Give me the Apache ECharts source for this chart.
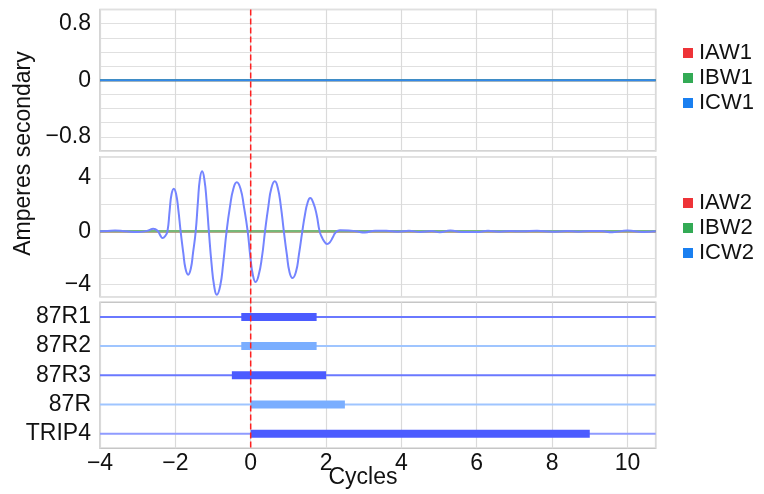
<!DOCTYPE html>
<html>
<head>
<meta charset="utf-8">
<script src="https://cdn.jsdelivr.net/npm/echarts@6/dist/echarts.min.js"></script>
<style>
  html, body { margin: 0; padding: 0; background: #fff; }
  #chart { width: 764px; height: 494px; }
</style>
</head>
<body>
<div id="chart"></div>
<script>
// x range of every panel (cycles)
const xMin = -4
const xMax = 10.75
const xTickLabels = [-4, -2, 0, 2, 4, 6, 8, 10]

// top panel: W1 currents, all flat at 0
const flatCycles = [-4, 10.75]
const iaw1 = [0, 0]
const ibw1 = [0, 0]
const icw1 = [0, 0]
const topTickLabels = [-0.8, 0, 0.8]

// middle panel: W2 currents
const iaw2 = [0, 0]
const ibw2 = [0, 0]
const icw2Cycles = [
  -4.0, -3.8, -3.6, -3.4, -3.2, -3.0, -2.85, -2.7, -2.59, -2.47, -2.4, -2.34, -2.27,
  -2.21, -2.15, -2.1, -2.04, -1.98, -1.92,
  -1.86, -1.79, -1.73, -1.66, -1.59, -1.53,
  -1.46, -1.4, -1.35, -1.29, -1.23, -1.17,
  -1.11, -1.04, -0.97, -0.9, -0.81, -0.73,
  -0.64, -0.55, -0.46, -0.37, -0.27, -0.18,
  -0.08, -0.01, 0.06, 0.13, 0.21, 0.3,
  0.38, 0.47, 0.55, 0.64, 0.72, 0.8,
  0.88, 0.96, 1.03, 1.11, 1.2, 1.28,
  1.37, 1.44, 1.51, 1.58, 1.66, 1.75,
  1.83, 1.9, 1.97, 2.03, 2.1, 2.18,
  2.25, 2.37, 2.6, 2.8, 3.03, 3.3, 3.6, 3.9, 4.2, 4.5, 4.8, 5.02, 5.3, 5.6,
  5.99, 6.3, 6.6, 6.9, 7.2, 7.6, 8.0, 8.4, 8.7, 9.0, 9.3, 9.6, 10.0, 10.4, 10.75
]
const icw2Amps = [
  0, 0.03, 0.06, 0.03, -0.03, -0.05, -0.02, 0.08, 0.2, 0.05, -0.3, -0.5, -0.35,
  0, 1.6, 2.8, 3.2, 2.8, 1.6,
  0, -1.6, -2.8, -3.25, -2.8, -1.6,
  0, 2.25, 3.9, 4.5, 3.9, 2.25,
  0, -2.4, -4.1, -4.75, -4.1, -2.4,
  0, 1.85, 3.2, 3.68, 3.2, 1.85,
  0, -1.9, -3.3, -3.8, -3.3, -1.9,
  0, 1.9, 3.25, 3.75, 3.25, 1.9,
  0, -1.75, -3.05, -3.5, -3.05, -1.75,
  0, 1.25, 2.15, 2.5, 2.15, 1.25,
  0, -0.5, -0.82, -0.95, -0.82, -0.45,
  -0.1, 0.08, 0.07, 0, -0.08, 0.05, 0.04, -0.03, 0.04, -0.04, 0.02, -0.06, 0.06, -0.05,
  -0.05, 0.04, -0.02, 0.03, 0, 0.04, -0.03, 0.02, -0.02, 0.03, 0.02, -0.06, 0.06, -0.05, 0
]
const midTickLabels = [-4, 0, 4]

// bottom panel: digital elements
const relayNames = ['87R1', '87R2', '87R3', '87R', 'TRIP4']
const relayStart = [-0.25, -0.25, -0.5, 0, 0]
const relayEnd = [1.75, 1.75, 2.0, 2.5, 9.0]

const FONT = 'Liberation Sans, Arial, sans-serif'
const FS = 23
const minus = v => (v < 0 ? '\u2212' : '') + Math.abs(v)
const onList = (list, v) => list.some(t => Math.abs(t - v) < 1e-6)

const legendColors = { A: '#ee3338', B: '#33aa55', C: '#1a7ff0' }
const relayThin = ['#6a78ff', '#9fc5ff', '#6a78ff', '#9fc5ff', '#8f9bff']
const relayBar = ['#4b5bff', '#7aaeff', '#4b5bff', '#7aaeff', '#4b5bff']

const chart = echarts.init(document.getElementById('chart'), null, { renderer: 'canvas' })

const gridStyle = { left: 100, right: 108.3, show: true, borderColor: '#c6c6c6', borderWidth: 1.5, containLabel: false }

const xAxisBase = (idx, showLabel) => ({
  type: 'value',
  gridIndex: idx,
  min: xMin,
  max: xMax,
  interval: 2,
  axisLine: { show: false },
  axisTick: { show: false },
  splitLine: { show: true, lineStyle: { color: '#dadada', width: 1.2 } },
  axisLabel: {
    show: showLabel,
    fontFamily: FONT,
    fontSize: FS,
    color: '#111',
    margin: 4,
    formatter: v => onList(xTickLabels, v) ? minus(v) : ''
  }
})

const pairs = (xs, ys) => xs.map((x, i) => [x, ys[i]])

const series = []
const flatLine = (name, data, color, idx, width) => ({
  name, type: 'line', xAxisIndex: idx, yAxisIndex: idx,
  data: pairs(flatCycles, data), showSymbol: false,
  lineStyle: { color, width }, itemStyle: { color }, animation: false
})
series.push(flatLine('IAW1', iaw1, legendColors.A, 0, 2))
series.push(flatLine('IBW1', ibw1, legendColors.B, 0, 2))
series.push(flatLine('ICW1', icw1, '#3389ea', 0, 2))
series.push(flatLine('IAW2', iaw2, legendColors.A, 1, 2.5))
series.push(flatLine('IBW2', ibw2, '#78b878', 1, 2.5))
series.push({
  name: 'ICW2', type: 'line', xAxisIndex: 1, yAxisIndex: 1,
  data: pairs(icw2Cycles, icw2Amps), showSymbol: false, smooth: 0.5,
  lineStyle: { color: '#7484ff', width: 2 }, itemStyle: { color: legendColors.C },
  animation: false
})

relayNames.forEach((name, i) => {
  series.push({
    type: 'line', xAxisIndex: 2, yAxisIndex: 2, showSymbol: false, silent: true,
    data: [[xMin, name], [xMax, name]],
    lineStyle: { color: relayThin[i], width: 2 }, animation: false
  })
  series.push({
    type: 'line', xAxisIndex: 2, yAxisIndex: 2, showSymbol: false, silent: true,
    data: [[relayStart[i], name], [relayEnd[i], name]],
    lineStyle: { color: relayBar[i], width: 8, cap: 'butt' }, animation: false, z: 3
  })
})

const legendBase = {
  orient: 'vertical',
  left: 678,
  itemWidth: 10,
  itemHeight: 10,
  itemGap: 3,
  icon: 'rect',
  textStyle: { fontFamily: FONT, fontSize: 22, color: '#111', lineHeight: 22, padding: [0, 0, 0, 1] }
}

const option = {
  animation: false,
  grid: [
    Object.assign({ top: 9.5, height: 141.5 }, gridStyle),
    Object.assign({ top: 156.7, height: 140 }, gridStyle),
    Object.assign({ top: 302.3, height: 146 }, gridStyle)
  ],
  xAxis: [xAxisBase(0, false), xAxisBase(1, false), xAxisBase(2, true)],
  yAxis: [
    {
      type: 'value', gridIndex: 0, min: -1, max: 1, interval: 0.2,
      axisLine: { show: false }, axisTick: { show: false },
      splitLine: { lineStyle: { color: '#e0e0e0', width: 1.2 } },
      axisLabel: {
        fontFamily: FONT, fontSize: FS, color: '#111', margin: 9,
        formatter: v => onList(topTickLabels, v) ? minus(+v.toFixed(1)) : ''
      }
    },
    {
      type: 'value', gridIndex: 1, min: -4.9, max: 5.6, splitNumber: 5,
      axisLine: { show: false }, axisTick: { show: false },
      splitLine: { lineStyle: { color: '#e0e0e0', width: 1.2 } },
      axisLabel: {
        fontFamily: FONT, fontSize: FS, color: '#111', margin: 9,
        formatter: v => onList(midTickLabels, v) ? minus(v) : ''
      }
    },
    {
      type: 'category', gridIndex: 2, data: relayNames, inverse: true,
      axisLine: { show: false }, axisTick: { show: false },
      splitLine: { show: false },
      axisLabel: { fontFamily: FONT, fontSize: FS, color: '#111', margin: 9, interval: 0 }
    }
  ],
  legend: [
    Object.assign({
      top: 37,
      data: [
        { name: 'IAW1', itemStyle: { color: legendColors.A } },
        { name: 'IBW1', itemStyle: { color: legendColors.B } },
        { name: 'ICW1', itemStyle: { color: legendColors.C } }
      ]
    }, legendBase),
    Object.assign({
      top: 187,
      data: [
        { name: 'IAW2', itemStyle: { color: legendColors.A } },
        { name: 'IBW2', itemStyle: { color: legendColors.B } },
        { name: 'ICW2', itemStyle: { color: legendColors.C } }
      ]
    }, legendBase)
  ],
  series
}

chart.setOption(option)

// red dashed trigger line at 0 cycles, spanning all three panels
const x0 = chart.convertToPixel({ xAxisIndex: 0 }, 0)
chart.setOption({
  graphic: [
    {
      type: 'line', z: 100,
      shape: { x1: x0, y1: 9.5, x2: x0, y2: 448.3 },
      style: { stroke: '#ff2020', lineWidth: 1.5, lineDash: [6, 3] }
    },
    {
      type: 'text', rotation: Math.PI / 2, x: 24, y: 153.5,
      style: { text: 'Amperes secondary', font: FS + 'px ' + FONT, fill: '#111', textAlign: 'center', textVerticalAlign: 'middle' }
    },
    {
      type: 'text', x: 363, y: 478,
      style: { text: 'Cycles', font: FS + 'px ' + FONT, fill: '#111', textAlign: 'center', textVerticalAlign: 'middle' }
    }
  ]
})
</script>
</body>
</html>
